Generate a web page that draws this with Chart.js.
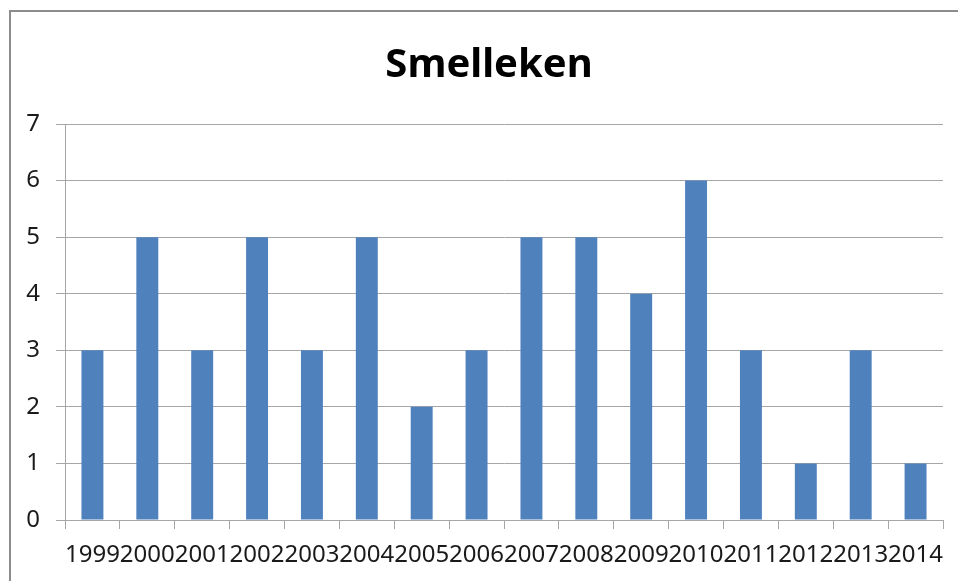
<!DOCTYPE html>
<html>
<head>
<meta charset="utf-8">
<script src="https://cdn.jsdelivr.net/npm/chart.js@4/dist/chart.umd.min.js"></script>
<style>
  html, body { margin: 0; padding: 0; background: #fff; overflow: hidden; }
  #wrap { position: relative; width: 958px; height: 581px; }
  #frame {
    position: absolute; left: 9px; top: 10px; width: 980px; height: 620px;
    border: 2px solid #8c8c8c; box-sizing: border-box;
  }
  canvas { position: absolute; left: 0; top: 0; }
</style>
</head>
<body>
<div id="wrap">
  <div id="frame"></div>
  <canvas id="chart" width="958" height="581"></canvas>
</div>
<script>
// Chart data
const chartTitle = 'Smelleken';
const years = ['1999', '2000', '2001', '2002', '2003', '2004', '2005', '2006',
               '2007', '2008', '2009', '2010', '2011', '2012', '2013', '2014'];
const counts = [3, 5, 3, 5, 3, 5, 2, 3, 5, 5, 4, 6, 3, 1, 3, 1];
const yTicks = [0, 1, 2, 3, 4, 5, 6, 7];

const gridColor = '#a6a6a6';
const labelFont = { family: 'Noto Sans', size: 24 };

// Title sits centred over the whole frame, not just the plot
const titlePlugin = {
  id: 'frameTitle',
  afterDraw(chart) {
    const c = chart.ctx;
    c.save();
    c.font = 'bold 40px "Noto Sans"';
    c.fillStyle = '#000';
    c.textAlign = 'center';
    c.textBaseline = 'alphabetic';
    c.fillText(chartTitle, 489, 77);
    c.restore();
  }
};

const ctx = document.getElementById('chart').getContext('2d');

new Chart(ctx, {
  type: 'bar',
  data: {
    labels: years,
    datasets: [{
      data: counts,
      backgroundColor: '#4f81bd',
      borderWidth: 0,
      barPercentage: 0.4,
      categoryPercentage: 1.0
    }]
  },
  options: {
    responsive: false,
    animation: false,
    devicePixelRatio: 1,
    layout: { padding: { left: 0, right: 15, top: 124, bottom: 0 } },
    plugins: {
      legend: { display: false },
      tooltip: { enabled: false },
      title: { display: false }
    },
    scales: {
      x: {
        offset: true,
        grid: {
          offset: true,
          drawOnChartArea: false,
          drawTicks: true,
          tickLength: 9,
          color: gridColor
        },
        border: { color: gridColor, width: 1 },
        ticks: {
          color: '#1a1a1a',
          font: labelFont,
          autoSkip: false,
          maxRotation: 0,
          minRotation: 0,
          padding: 12
        },
        afterFit: scale => { scale.height = 61; }
      },
      y: {
        min: 0,
        max: 7,
        afterBuildTicks: scale => { scale.ticks = yTicks.map(v => ({ value: v })); },
        grid: {
          color: gridColor,
          tickLength: 9
        },
        border: { color: gridColor, width: 1 },
        ticks: {
          color: '#1a1a1a',
          font: labelFont,
          padding: 16
        },
        afterFit: scale => { scale.width = 65; }
      }
    }
  },
  plugins: [titlePlugin]
});
</script>
</body>
</html>
